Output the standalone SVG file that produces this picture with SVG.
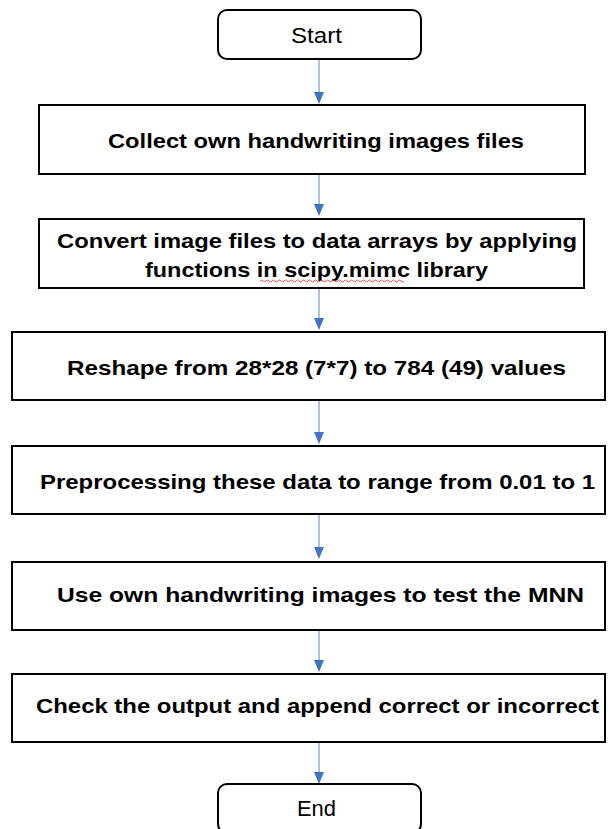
<svg xmlns="http://www.w3.org/2000/svg" width="613" height="829" viewBox="0 0 613 829">
<style>
.term{fill:#fff;stroke:#000;stroke-width:2}
.box{fill:#fff;stroke:#000;stroke-width:2}
.t{font-family:"Liberation Sans",Arial,sans-serif;font-size:21px;font-weight:bold;fill:#000;text-anchor:middle;dominant-baseline:central}
.tr{font-family:"Liberation Sans",Arial,sans-serif;font-size:22px;fill:#000;text-anchor:middle;dominant-baseline:central}
.c{stroke:#7FA0D8;stroke-width:1.3;fill:none}
.ah{fill:#4472C4}
</style>
<rect width="613" height="829" fill="#fff"/>
<g id="connectors">
<line class="c" x1="319" y1="59" x2="319" y2="92"/><path class="ah" d="M314,92 L324,92 L319,104 Z"/>
<line class="c" x1="319" y1="174" x2="319" y2="204"/><path class="ah" d="M314,204 L324,204 L319,216 Z"/>
<line class="c" x1="319" y1="288" x2="319" y2="318"/><path class="ah" d="M314,318 L324,318 L319,330 Z"/>
<line class="c" x1="319" y1="400" x2="319" y2="432"/><path class="ah" d="M314,432 L324,432 L319,444 Z"/>
<line class="c" x1="319" y1="514" x2="319" y2="547"/><path class="ah" d="M314,547 L324,547 L319,559 Z"/>
<line class="c" x1="319" y1="630" x2="319" y2="660"/><path class="ah" d="M314,660 L324,660 L319,672 Z"/>
<line class="c" x1="319" y1="742" x2="319" y2="772"/><path class="ah" d="M314,772 L324,772 L319,784 Z"/>
</g>
<g id="start">
<rect class="term" x="218" y="10" width="203" height="49" rx="9"/>
<text class="tr" x="316.5" y="35" textLength="51" lengthAdjust="spacingAndGlyphs">Start</text>
</g>
<g id="step1">
<rect class="box" x="39" y="105" width="546" height="69"/>
<text class="t" x="316" y="140" textLength="416" lengthAdjust="spacingAndGlyphs">Collect own handwriting images files</text>
</g>
<g id="step2">
<rect class="box" x="39" y="219" width="545" height="69"/>
<text class="t" x="317" y="240" textLength="520" lengthAdjust="spacingAndGlyphs">Convert image files to data arrays by applying</text>
<text class="t" x="316.5" y="269" textLength="343" lengthAdjust="spacingAndGlyphs">functions in scipy.mimc library</text>
<path d="M260,281 q1.5,-2 3,0 t3,0 t3,0 t3,0 t3,0 t3,0 t3,0 t3,0 t3,0 t3,0 t3,0 t3,0 t3,0 t3,0 t3,0 t3,0 t3,0 t3,0 t3,0 t3,0 t3,0 t3,0 t3,0 t3,0 t3,0 t3,0 t3,0 t3,0 t3,0 t3,0 t3,0 t3,0 t3,0 t3,0 t3,0 t3,0 t3,0 t3,0 t3,0 t3,0 t3,0 t3,0 t3,0 t3,0 t3,0 t3,0 t3,0 t3,0" fill="none" stroke="#E04040" stroke-width="0.9"/>
</g>
<g id="step3">
<rect class="box" x="12" y="332" width="593" height="68"/>
<text class="t" x="316.5" y="367" textLength="499" lengthAdjust="spacingAndGlyphs">Reshape from 28*28 (7*7) to 784 (49) values</text>
</g>
<g id="step4">
<rect class="box" x="12" y="446" width="593" height="68"/>
<text class="t" x="317.5" y="481" textLength="555" lengthAdjust="spacingAndGlyphs">Preprocessing these data to range from 0.01 to 1</text>
</g>
<g id="step5">
<rect class="box" x="12" y="562" width="593" height="68"/>
<text class="t" x="320.5" y="594" textLength="527" lengthAdjust="spacingAndGlyphs">Use own handwriting images to test the MNN</text>
</g>
<g id="step6">
<rect class="box" x="12" y="674" width="593" height="68"/>
<text class="t" x="317.5" y="705" textLength="563" lengthAdjust="spacingAndGlyphs">Check the output and append correct or incorrect</text>
</g>
<g id="end">
<rect class="term" x="218" y="784" width="203" height="49" rx="9"/>
<text class="tr" x="316.5" y="808" textLength="39" lengthAdjust="spacingAndGlyphs">End</text>
</g>
</svg>
